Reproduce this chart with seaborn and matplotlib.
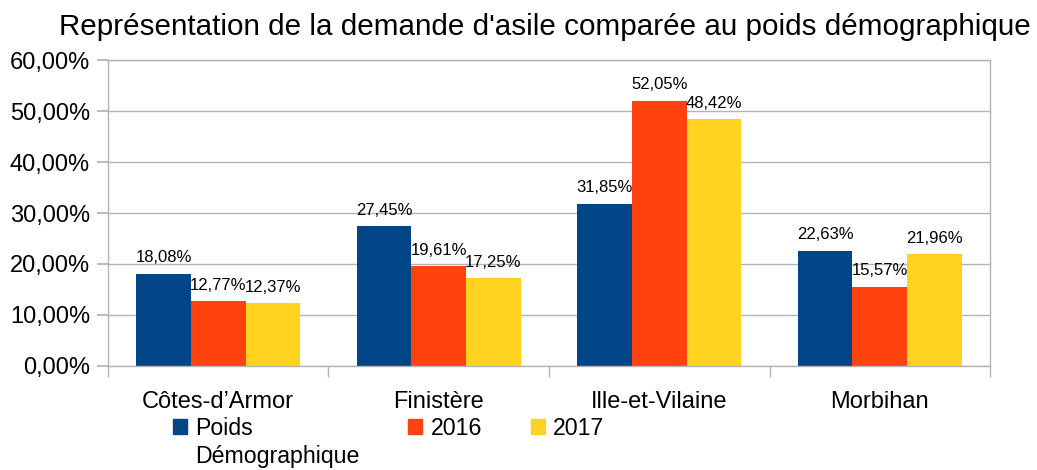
# Graphique : demande d'asile comparée au poids démographique (Bretagne)
import pandas as pd
import matplotlib
matplotlib.use('Agg')
import matplotlib.pyplot as plt
import seaborn as sns
from matplotlib.ticker import FixedLocator, FuncFormatter

# --- Données ---
departements = ['Côtes-d’Armor', 'Finistère', 'Ille-et-Vilaine', 'Morbihan']
series = ['Poids Démographique', '2016', '2017']
poids_demo = [18.08, 27.45, 31.85, 22.63]
asile_2016 = [12.77, 19.61, 52.05, 15.57]
asile_2017 = [12.37, 17.25, 48.42, 21.96]
couleurs = ['#004586', '#ff420e', '#ffd320']
y_ticks = [0, 10, 20, 30, 40, 50, 60]

# Tableau long pour seaborn
lignes = []
for serie, valeurs in zip(series, [poids_demo, asile_2016, asile_2017]):
    for dep, v in zip(departements, valeurs):
        lignes.append({'departement': dep, 'serie': serie, 'valeur': v})
df = pd.DataFrame(lignes)


def pourcent(v):
    return f'{v:.2f}%'.replace('.', ',')


# --- Visualisation ---
sns.set_theme(style='white')
plt.rcParams['font.family'] = ['Liberation Sans', 'DejaVu Sans']
plt.rcParams['text.color'] = '#000000'

fig = plt.figure(figsize=(10.37, 4.70), dpi=100)
ax = fig.add_axes([0.1041, 0.2213, 0.8506, 0.651])

sns.barplot(data=df, x='departement', y='valeur', hue='serie',
            palette=couleurs, width=0.744, gap=0, saturation=1,
            edgecolor='none', linewidth=0, ax=ax, legend=False)

# Étiquettes de données
for conteneur in ax.containers:
    ax.bar_label(conteneur, labels=[pourcent(b.get_height()) for b in conteneur],
                 padding=6, fontsize=12, color='#000000')

ax.set_ylim(0, 60)
ax.set_xlim(-0.5, len(departements) - 0.5)
ax.yaxis.set_major_locator(FixedLocator(y_ticks))
ax.yaxis.set_major_formatter(FuncFormatter(lambda v, p: pourcent(v)))
ax.grid(axis='y', color='#b3b3b3', linewidth=1)
ax.set_axisbelow(True)
for s in ax.spines.values():
    s.set_color('#b3b3b3')
    s.set_linewidth(1)

ax.tick_params(axis='y', which='major', length=8, color='#b3b3b3',
               labelsize=17, labelcolor='#000000', pad=5, left=True)
ax.tick_params(axis='x', which='major', length=0, labelsize=17,
               labelcolor='#000000', pad=18)
ax.set_xticks([i - 0.5 for i in range(len(departements) + 1)], minor=True)
ax.tick_params(axis='x', which='minor', length=8, color='#b3b3b3', bottom=True)
ax.set_xlabel('')
ax.set_ylabel('')

fig.text(0.525, 0.943, "Représentation de la demande d'asile comparée au poids démographique",
         ha='center', va='center', fontsize=21.3, color='#000000')

# Légende sous le graphique (le premier libellé passe sur deux lignes)
poignees = [plt.Rectangle((0, 0), 1, 1, color=c) for c in couleurs]
mots = series[0].split(' ')
opts = dict(frameon=False, fontsize=16.7, handlelength=0.62, handleheight=0.62,
            handletextpad=0.35, columnspacing=2.1, borderaxespad=0, borderpad=0)
leg1 = fig.legend(poignees[:1], mots[:1], loc='center left',
                  bbox_to_anchor=(0.1668, 0.088), **opts)
leg2 = fig.legend(poignees[1:], series[1:], loc='center left', ncol=2,
                  bbox_to_anchor=(0.3934, 0.088), **opts)

fig.canvas.draw()
bb = leg1.get_texts()[0].get_window_extent()
fig.text(bb.x0 / fig.bbox.width, (bb.y0 - 28) / fig.bbox.height, mots[1],
         ha='left', va='bottom', fontsize=16.7, color='#000000')

fig.savefig('out.png', dpi=100)
